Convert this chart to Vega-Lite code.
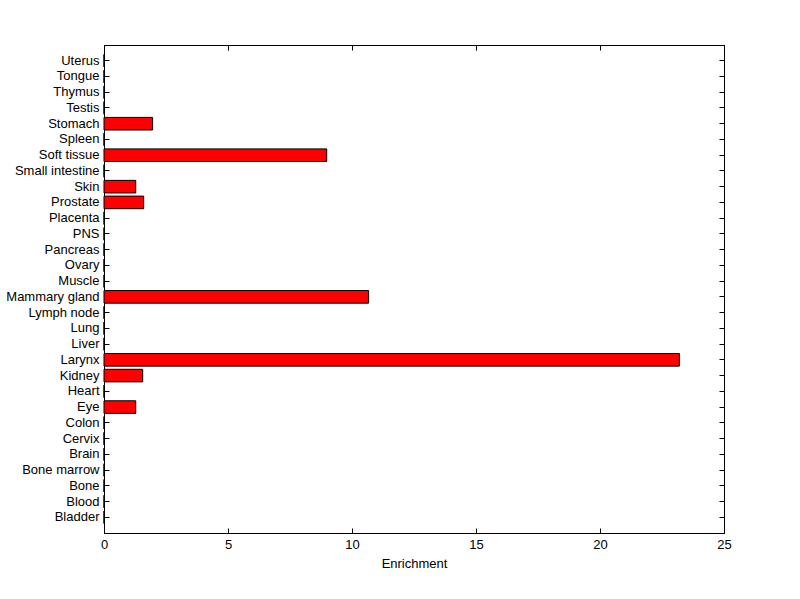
{
  "$schema": "https://vega.github.io/schema/vega-lite/v6.json",
  "width": 620,
  "height": 488,
  "autosize": "none",
  "padding": {"left": 104, "top": 45, "right": 76, "bottom": 66},
  "background": "white",
  "config": {
    "view": {"stroke": "black", "strokeWidth": 1},
    "axis": {"grid": false, "domainColor": "black", "tickColor": "black", "labelColor": "black", "titleColor": "black", "labelFont": "Liberation Sans", "titleFont": "Liberation Sans", "labelFontSize": 13, "titleFontSize": 13, "titleFontWeight": "normal", "tickSize": -5, "domainWidth": 1, "tickWidth": 1, "labelFlush": false}
  },
  "data": {"values": [
    {"tissue": "Bladder", "enrichment": 0},
    {"tissue": "Blood", "enrichment": 0},
    {"tissue": "Bone", "enrichment": 0},
    {"tissue": "Bone marrow", "enrichment": 0},
    {"tissue": "Brain", "enrichment": 0},
    {"tissue": "Cervix", "enrichment": 0},
    {"tissue": "Colon", "enrichment": 0},
    {"tissue": "Eye", "enrichment": 1.28},
    {"tissue": "Heart", "enrichment": 0},
    {"tissue": "Kidney", "enrichment": 1.56},
    {"tissue": "Larynx", "enrichment": 23.2},
    {"tissue": "Liver", "enrichment": 0},
    {"tissue": "Lung", "enrichment": 0},
    {"tissue": "Lymph node", "enrichment": 0},
    {"tissue": "Mammary gland", "enrichment": 10.67},
    {"tissue": "Muscle", "enrichment": 0},
    {"tissue": "Ovary", "enrichment": 0},
    {"tissue": "Pancreas", "enrichment": 0},
    {"tissue": "PNS", "enrichment": 0},
    {"tissue": "Placenta", "enrichment": 0},
    {"tissue": "Prostate", "enrichment": 1.6},
    {"tissue": "Skin", "enrichment": 1.28},
    {"tissue": "Small intestine", "enrichment": 0},
    {"tissue": "Soft tissue", "enrichment": 8.98},
    {"tissue": "Spleen", "enrichment": 0},
    {"tissue": "Stomach", "enrichment": 1.96},
    {"tissue": "Testis", "enrichment": 0},
    {"tissue": "Thymus", "enrichment": 0},
    {"tissue": "Tongue", "enrichment": 0},
    {"tissue": "Uterus", "enrichment": 0}
  ]},
  "layer": [
    {
      "mark": {"type": "bar", "fill": "#ff0000", "stroke": "black", "strokeWidth": 1},
      "encoding": {
        "x": {"field": "enrichment", "type": "quantitative", "scale": {"domain": [0, 25], "nice": false}, "axis": {"orient": "bottom", "title": "Enrichment", "values": [0, 5, 10, 15, 20, 25], "labelPadding": 10, "titlePadding": 6}},
        "y": {"field": "tissue", "type": "nominal", "sort": ["Uterus", "Tongue", "Thymus", "Testis", "Stomach", "Spleen", "Soft tissue", "Small intestine", "Skin", "Prostate", "Placenta", "PNS", "Pancreas", "Ovary", "Muscle", "Mammary gland", "Lymph node", "Lung", "Liver", "Larynx", "Kidney", "Heart", "Eye", "Colon", "Cervix", "Brain", "Bone marrow", "Bone", "Blood", "Bladder"], "scale": {"paddingInner": 0.2, "paddingOuter": 0.6}, "axis": {"orient": "left", "title": null, "labelPadding": 10}}
      }
    },
    {
      "mark": {"type": "bar", "opacity": 0},
      "encoding": {
        "x": {"field": "enrichment", "type": "quantitative", "axis": {"orient": "top", "title": null, "labels": false, "values": [0, 5, 10, 15, 20, 25]}},
        "y": {"field": "tissue", "type": "nominal", "sort": ["Uterus", "Tongue", "Thymus", "Testis", "Stomach", "Spleen", "Soft tissue", "Small intestine", "Skin", "Prostate", "Placenta", "PNS", "Pancreas", "Ovary", "Muscle", "Mammary gland", "Lymph node", "Lung", "Liver", "Larynx", "Kidney", "Heart", "Eye", "Colon", "Cervix", "Brain", "Bone marrow", "Bone", "Blood", "Bladder"], "axis": {"orient": "right", "title": null, "labels": false}}
      }
    }
  ],
  "resolve": {"axis": {"x": "independent", "y": "independent"}}
}
